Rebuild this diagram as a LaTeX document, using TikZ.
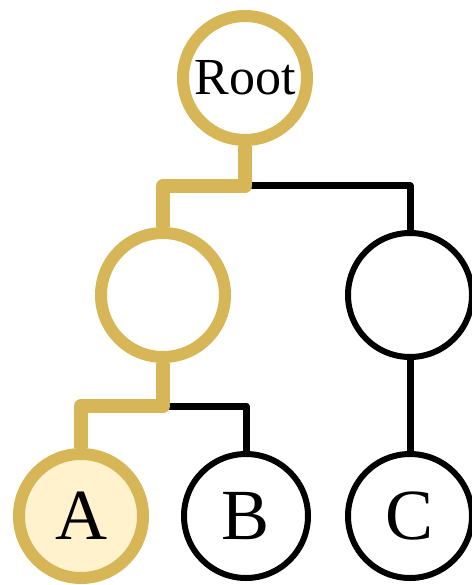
\documentclass[tikz,border=0pt]{standalone}
\usepackage{fontspec}
\setmainfont{Liberation Serif}
\usetikzlibrary{positioning}
\definecolor{pathgold}{HTML}{D6B656}
\definecolor{pathfill}{HTML}{FFF2CC}
\tikzset{
    treenode/.style={circle, draw=black, line width=6pt, minimum size=124pt, inner sep=0pt, fill=white, font=\fontsize{72}{72}\selectfont},
    pathnode/.style={treenode, draw=pathgold, line width=12pt},
    edge/.style={black, line width=7pt, line join=round},
    pathedge/.style={pathgold, line width=14pt, line join=round},
}

\begin{document}
\begin{tikzpicture}[x=1pt, y=-1pt]
    \useasboundingbox (0,0) rectangle (471,585);

    % tree nodes
    \node[pathnode, font=\fontsize{52}{52}\selectfont] (root) at (245,78) {Root};
    \node[pathnode] (left) at (163,295) {};
    \node[treenode] (right) at (410,295) {};
    \node[pathnode, fill=pathfill] (a) at (81,516) {A};
    \node[treenode] (b) at (246,516) {B};
    \node[treenode] (c) at (410,516) {C};

    \coordinate (split1) at (245,186);
    \coordinate (split2) at (163,406);

    % plain branches first, highlighted path on top
    \draw[edge] (split1) -| (right.north);
    \draw[edge] (split2) -| (b.north);
    \draw[edge] (right.south) -- (c.north);

    \draw[pathedge] (root.south) -- (split1) -| (left.north);
    \draw[pathedge] (left.south) -- (split2) -| (a.north);

\end{tikzpicture}
\end{document}
